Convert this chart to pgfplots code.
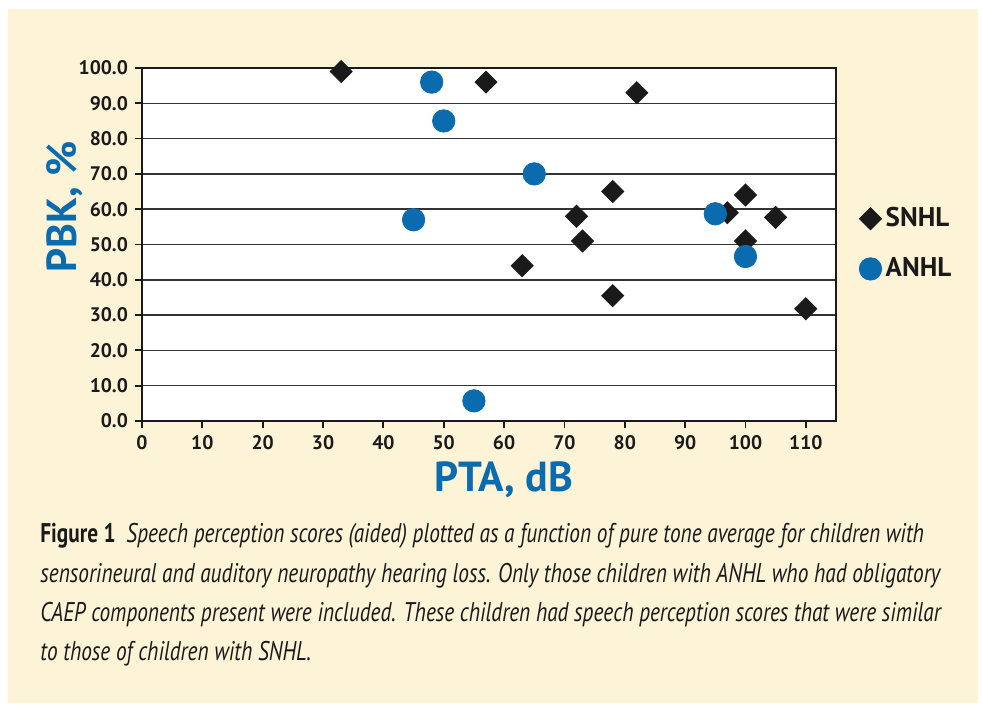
\documentclass[border=0pt]{standalone}
\usepackage{pgfplots}
\pgfplotsset{compat=1.18}
\usepackage{fontspec}
\setmainfont{PT Sans}
\newfontfamily\capfont[FakeStretch=0.79]{PT Sans}
\definecolor{cream}{HTML}{FDF3D6}
\definecolor{anblue}{HTML}{0A6BAF}
\definecolor{ink}{HTML}{1A1A1A}

\begin{document}
\begin{tikzpicture}
% page frame: white margin, cream panel (1px = 0.5pt)
\fill[white] (0,0) rectangle (491pt,353.5pt);
\fill[cream] (4pt,2pt) rectangle (489pt,349pt);

\begin{axis}[
  at={(71pt,143pt)}, anchor=south west,
  scale only axis, width=347pt, height=176.5pt,
  xmin=0, xmax=115, ymin=0, ymax=100,
  xtick={0,10,...,110}, ytick={0,10,...,100},
  axis background/.style={fill=white},
  axis line style={ink, line width=0.75pt},
  ymajorgrids, grid style={black!80, line width=0.75pt},
  tick align=outside, xtick pos=bottom, ytick pos=left,
  major tick length=3.5pt, tick style={ink, line width=0.9pt},
  ticklabel style={font=\fontsize{9.8}{11}\selectfont\bfseries, text=ink},
  /pgf/number format/assume math mode=true,
  yticklabel style={/pgf/number format/fixed, /pgf/number format/fixed zerofill,
    /pgf/number format/precision=1},
  legend style={at={(1.033,0.502)}, anchor=west, draw=none, fill=none,
    inner sep=0pt, font=\fontsize{13.5}{14}\selectfont\bfseries, text=ink,
    row sep=10pt, /tikz/every even column/.append style={column sep=2pt}},
  legend cell align=left,
  legend image code/.code={\draw[#1, only marks] plot coordinates {(0pt,0pt)};},
]
% SNHL
\addplot[only marks, mark=square*, mark size=3.9pt, color=ink,
  mark options={rotate=45, fill=ink, draw=ink}] coordinates {
  (33,99) (57,96) (82,93) (78,65) (72,58) (73,51) (63,44) (78,35.5)
  (97,59) (100,64) (100,51) (105,57.7) (110,31.8)
};
\addlegendentry{SNHL}
% ANHL
\addplot[only marks, mark=*, mark size=5.6pt, color=anblue,
  mark options={fill=anblue, draw=anblue}] coordinates {
  (48,96) (50,85) (65,70) (45,57) (55,5.7) (95,58.7) (100,46.6)
};
\addlegendentry{ANHL}
\draw[ink, line width=1.1pt] (rel axis cs:0,1) -- (rel axis cs:0,0) -- (rel axis cs:1,0);
\end{axis}

\node[anchor=base, font=\fontsize{21}{21}\selectfont\bfseries, text=anblue]
  at (252pt,107.5pt) {PTA, dB};
\node[anchor=base, rotate=90, font=\fontsize{21}{21}\selectfont\bfseries, text=anblue]
  at (38.5pt,250pt) {PBK, \%};

\begin{scope}[every node/.style={anchor=base west, inner sep=0pt, text=ink,
    font=\capfont\fontsize{13.5}{15}\selectfont\itshape}]
\node at (20pt,82pt) {{\upshape\bfseries Figure 1}\hspace{0.4em}Speech perception scores (aided) plotted as a function of pure tone average for children with};
\node at (20pt,62.3pt) {sensorineural and auditory neuropathy hearing loss. Only those children with ANHL who had obligatory};
\node at (20pt,42.6pt) {CAEP components present were included. These children had speech perception scores that were similar};
\node at (20pt,23pt) {to those of children with SNHL.};
\end{scope}
\end{tikzpicture}
\end{document}
